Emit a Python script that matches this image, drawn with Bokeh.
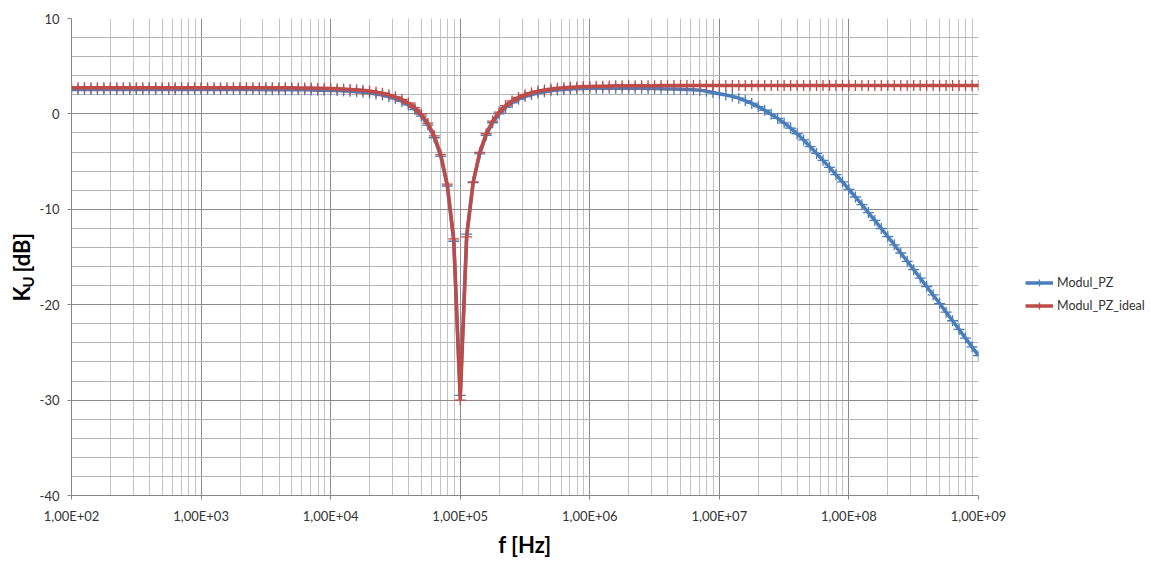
import math
from bokeh.plotting import figure
from bokeh.layouts import row
from bokeh.models import FixedTicker, Legend, LegendItem, ColumnDataSource
from bokeh.core.properties import value
from bokeh.embed import file_html
from bokeh.resources import INLINE

# ---- data ----
DECADES = [2, 3, 4, 5, 6, 7, 8]
MANTISSAS = [1.000, 1.122, 1.259, 1.413, 1.585, 1.778, 1.995, 2.239, 2.512, 2.818,
             3.162, 3.548, 3.981, 4.467, 5.012, 5.623, 6.310, 7.079, 7.943, 8.913]
LAST_FREQ = 1e9
FREQ_HZ = [m * 10 ** d for d in DECADES for m in MANTISSAS] + [LAST_FREQ]

MODUL_PZ_IDEAL = [
    2.75, 2.75, 2.75, 2.75, 2.75, 2.75, 2.75, 2.75, 2.75, 2.75,
    2.75, 2.75, 2.75, 2.75, 2.75, 2.75, 2.75, 2.75, 2.75, 2.75,
    2.75, 2.75, 2.75, 2.75, 2.75, 2.75, 2.75, 2.75, 2.75, 2.75,
    2.74, 2.74, 2.74, 2.73, 2.73, 2.72, 2.72, 2.71, 2.69, 2.68,
    2.66, 2.64, 2.61, 2.57, 2.53, 2.47, 2.39, 2.29, 2.17, 2.00,
    1.79, 1.51, 1.14, 0.65, -0.03, -0.97, -2.30, -4.26, -7.36, -13.11,
    -30.0,
    -12.89, -7.14, -4.04, -2.08, -0.75, 0.19, 0.87, 1.36, 1.73, 2.01,
    2.22, 2.39, 2.51, 2.61, 2.69, 2.75, 2.79, 2.83, 2.86,
    2.88, 2.90, 2.91, 2.93, 2.94, 2.94, 2.95, 2.95, 2.96, 2.96,
    2.96, 2.97, 2.97, 2.97, 2.97, 2.97, 2.97, 2.97, 2.97, 2.97,
    2.97, 2.97, 2.97, 2.97, 2.97, 2.97, 2.97, 2.97, 2.97, 2.97,
    2.97, 2.97, 2.97, 2.97, 2.97, 2.97, 2.97, 2.97, 2.97, 2.97,
    2.97, 2.97, 2.97, 2.97, 2.97, 2.97, 2.97, 2.97, 2.97, 2.97,
    2.97, 2.97, 2.97, 2.97, 2.97, 2.97, 2.97, 2.97, 2.97, 2.97,
    2.97,
]

MODUL_PZ = [
    2.55, 2.55, 2.55, 2.55, 2.55, 2.55, 2.55, 2.55, 2.55, 2.55,
    2.55, 2.55, 2.55, 2.55, 2.55, 2.55, 2.55, 2.55, 2.55, 2.55,
    2.55, 2.55, 2.55, 2.55, 2.55, 2.55, 2.55, 2.55, 2.55, 2.55,
    2.54, 2.54, 2.54, 2.53, 2.53, 2.52, 2.52, 2.51, 2.49, 2.48,
    2.46, 2.44, 2.41, 2.37, 2.33, 2.27, 2.19, 2.09, 1.97, 1.80,
    1.59, 1.31, 0.94, 0.45, -0.23, -1.17, -2.50, -4.46, -7.56, -13.35,
    -29.5,
    -12.6, -7.2, -4.2, -2.25, -0.93, 0.00, 0.68, 1.17, 1.54, 1.82,
    2.03, 2.20, 2.32, 2.42, 2.50, 2.56, 2.60, 2.64, 2.66,
    2.68, 2.69, 2.69, 2.70, 2.70, 2.70, 2.69, 2.69, 2.68, 2.67,
    2.66, 2.64, 2.62, 2.60, 2.58, 2.55, 2.52, 2.49, 2.37, 2.24,
    2.11, 1.98, 1.84, 1.65, 1.40, 1.10, 0.76, 0.38, -0.03, -0.47,
    -0.95, -1.49, -2.08, -2.73, -3.42, -4.14, -4.87, -5.61, -6.36, -7.13,
    -7.91, -8.71, -9.52, -10.34, -11.17, -12.01, -12.86, -13.72, -14.58, -15.45,
    -16.33, -17.21, -18.09, -18.98, -19.88, -20.78, -21.68, -22.59, -23.50, -24.42,
    -25.34,
]

SERIES_NAMES = ["Modul_PZ", "Modul_PZ_ideal"]
X_TICKS = [1e2, 1e3, 1e4, 1e5, 1e6, 1e7, 1e8, 1e9]
X_TICK_LABELS = ["1,00E+02", "1,00E+03", "1,00E+04", "1,00E+05",
                 "1,00E+06", "1,00E+07", "1,00E+08", "1,00E+09"]
X_MINOR_MULT = [2, 3, 4, 5, 6, 7, 8, 9]
Y_TICKS = [-40, -30, -20, -10, 0, 10]
Y_TICK_LABELS = ["-40", "-30", "-20", "-10", "0", "10"]
Y_MINOR = [-38, -36, -34, -32, -28, -26, -24, -22, -18, -16, -14, -12,
           -8, -6, -4, -2, 2, 4, 6, 8]
X_TITLE = "f [Hz]"
Y_TITLE_PARTS = ["K", "U", "[dB]"]

assert len(FREQ_HZ) == len(MODUL_PZ) == len(MODUL_PZ_IDEAL) == 141

BLUE = "#4a7ebb"
RED = "#be4b48"
FONT = "Lato"
TXT = "#333333"
H = 560
LEFT_W = 36
MAIN_W = 972
LEG_W = 1151 - LEFT_W - MAIN_W

src = ColumnDataSource(dict(f=FREQ_HZ, pz=MODUL_PZ, ideal=MODUL_PZ_IDEAL))

# ---------------- main plot ----------------
p = figure(width=MAIN_W, height=H, x_axis_type="log",
           x_range=(1e2, 1e9), y_range=(-40, 10),
           output_backend="svg", toolbar_location=None,
           min_border_left=70 - LEFT_W, min_border_right=MAIN_W + LEFT_W - 978,
           min_border_top=18, min_border_bottom=H - 502, frame_align=False)
p.outline_line_color = None
p.background_fill_color = "white"

xt = FixedTicker(ticks=X_TICKS,
                 minor_ticks=[m * t for t in X_TICKS[:-1] for m in X_MINOR_MULT])
yt = FixedTicker(ticks=Y_TICKS, minor_ticks=Y_MINOR)
p.xaxis.ticker = xt
p.yaxis.ticker = yt
p.xgrid.ticker = xt
p.ygrid.ticker = yt
p.xaxis.major_label_overrides = {t: s for t, s in zip(X_TICKS, X_TICK_LABELS)}
p.yaxis.major_label_overrides = {t: s for t, s in zip(Y_TICKS, Y_TICK_LABELS)}

for ax in (p.xaxis, p.yaxis):
    ax.axis_line_color = "#868686"
    ax.major_tick_line_color = "#868686"
    ax.major_tick_out = 4
    ax.major_tick_in = 0
    ax.minor_tick_line_color = None
    ax.major_label_text_font = FONT
    ax.major_label_text_font_size = "13px"
    ax.major_label_text_color = TXT
    ax.major_label_standoff = 8

p.xaxis.axis_label = X_TITLE
p.xaxis.axis_label_text_font = FONT
p.xaxis.axis_label_text_font_size = "22px"
p.xaxis.axis_label_text_font_style = "bold"
p.xaxis.axis_label_text_color = "#000000"
p.xaxis.axis_label_standoff = 4

p.xgrid.grid_line_color = "#8c8c8c"
p.xgrid.minor_grid_line_color = "#c4c4c4"
p.ygrid.grid_line_color = "#8c8c8c"
p.ygrid.minor_grid_line_color = "#b4b4b4"

LINE_KW = dict(line_width=3.5)
MARK_KW = dict(marker="cross", size=11, line_width=1.3)

p.line("f", "pz", source=src, color=BLUE, **LINE_KW)
p.scatter("f", "pz", source=src, line_color=BLUE, **MARK_KW)
p.line("f", "ideal", source=src, color=RED, **LINE_KW)
p.scatter("f", "ideal", source=src, line_color=RED, **MARK_KW)

# ---------------- left strip: rotated y-axis title ----------------
lf = figure(width=LEFT_W, height=H, x_range=(0, LEFT_W), y_range=(0, H),
            output_backend="svg", toolbar_location=None,
            x_axis_location=None, y_axis_location=None,
            min_border=0, outline_line_color=None, frame_align=False)
lf.grid.visible = False
TITLE_KW = dict(angle=math.pi / 2, text_font=value(FONT), text_font_style="bold",
                text_color="#000000", text_align="left", text_baseline="middle")
lf.text(x=[21], y=[H - 301], text=[Y_TITLE_PARTS[0]], text_font_size="22px", **TITLE_KW)
lf.text(x=[27], y=[H - 287], text=[Y_TITLE_PARTS[1]], text_font_size="15px", **TITLE_KW)
lf.text(x=[21], y=[H - 272], text=[Y_TITLE_PARTS[2]], text_font_size="22px", **TITLE_KW)

# ---------------- right strip: legend ----------------
lg = figure(width=LEG_W, height=H, x_range=(0, 1), y_range=(0, 1),
            output_backend="svg", toolbar_location=None,
            x_axis_location=None, y_axis_location=None,
            min_border=0, outline_line_color=None, frame_align=False)
lg.grid.visible = False
# legend proxies: same series, outside this strip's ranges so only the legend shows
gbl = lg.line("f", "pz", source=src, color=BLUE, **LINE_KW)
gbs = lg.scatter("f", "pz", source=src, line_color=BLUE, **MARK_KW)
grl = lg.line("f", "ideal", source=src, color=RED, **LINE_KW)
grs = lg.scatter("f", "ideal", source=src, line_color=RED, **MARK_KW)

legend = Legend(items=[LegendItem(label=SERIES_NAMES[0], renderers=[gbl, gbs]),
                       LegendItem(label=SERIES_NAMES[1], renderers=[grl, grs])],
                location=(1025 - LEFT_W - MAIN_W, H - 314), border_line_color=None,
                background_fill_alpha=0, padding=0, margin=0, spacing=6,
                glyph_width=28, glyph_height=17, label_standoff=4,
                label_text_font=FONT, label_text_font_size="12.5px",
                label_text_color=TXT)
lg.add_layout(legend)

layout = row(lf, p, lg)
open("out.html", "w").write(file_html(layout, INLINE))
